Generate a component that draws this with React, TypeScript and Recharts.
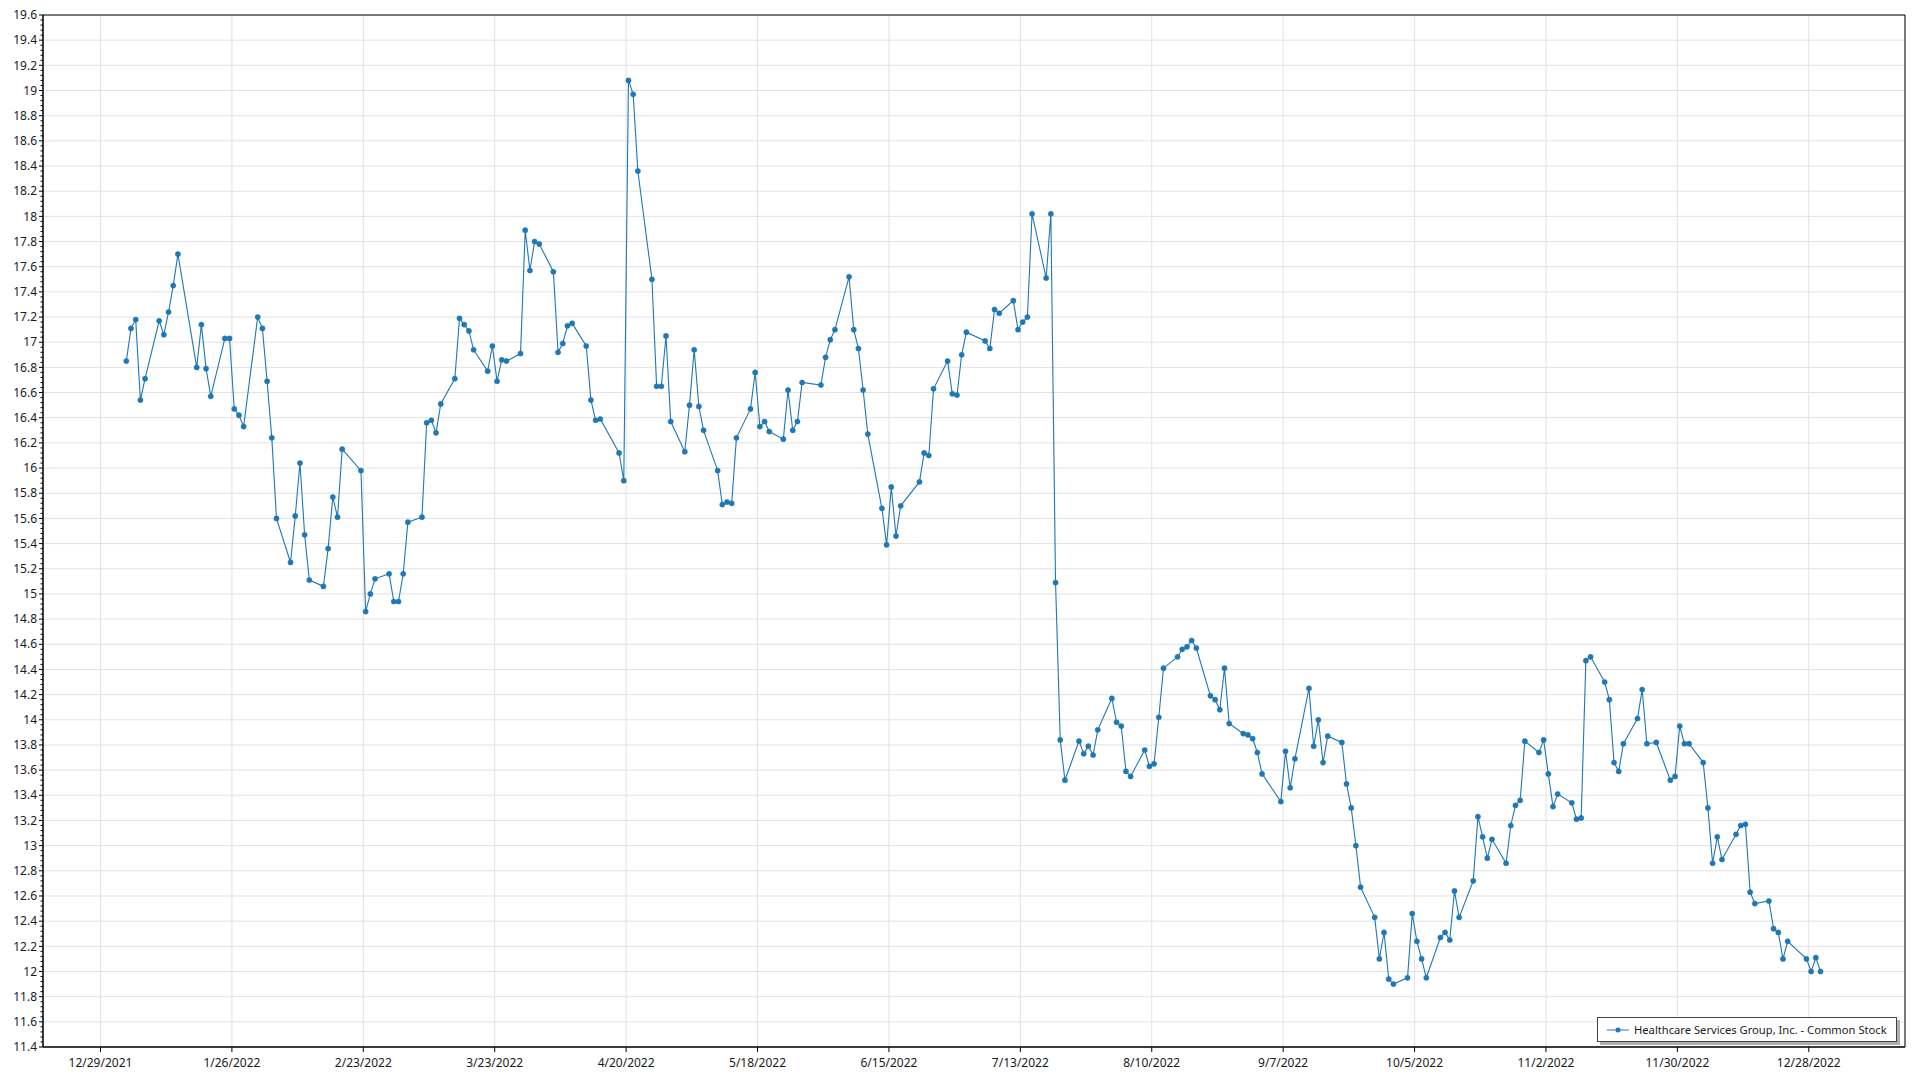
import React from 'react';
import {
    LineChart,
    Line,
    XAxis,
    YAxis,
    CartesianGrid,
    ReferenceArea
} from 'recharts';

const seriesName = 'Healthcare Services Group, Inc. - Common Stock';

const tradeDates = [
    '2022-01-03', '2022-01-04', '2022-01-05', '2022-01-06', '2022-01-07',
    '2022-01-10', '2022-01-11', '2022-01-12', '2022-01-13', '2022-01-14',
    '2022-01-18', '2022-01-19', '2022-01-20', '2022-01-21',
    '2022-01-24', '2022-01-25', '2022-01-26', '2022-01-27', '2022-01-28',
    '2022-01-31', '2022-02-01', '2022-02-02', '2022-02-03', '2022-02-04',
    '2022-02-07', '2022-02-08', '2022-02-09', '2022-02-10', '2022-02-11',
    '2022-02-14', '2022-02-15', '2022-02-16', '2022-02-17', '2022-02-18',
    '2022-02-22', '2022-02-23', '2022-02-24', '2022-02-25',
    '2022-02-28', '2022-03-01', '2022-03-02', '2022-03-03', '2022-03-04',
    '2022-03-07', '2022-03-08', '2022-03-09', '2022-03-10', '2022-03-11',
    '2022-03-14', '2022-03-15', '2022-03-16', '2022-03-17', '2022-03-18',
    '2022-03-21', '2022-03-22', '2022-03-23', '2022-03-24', '2022-03-25',
    '2022-03-28', '2022-03-29', '2022-03-30', '2022-03-31', '2022-04-01',
    '2022-04-04', '2022-04-05', '2022-04-06', '2022-04-07', '2022-04-08',
    '2022-04-11', '2022-04-12', '2022-04-13', '2022-04-14',
    '2022-04-18', '2022-04-19', '2022-04-20', '2022-04-21', '2022-04-22',
    '2022-04-25', '2022-04-26', '2022-04-27', '2022-04-28', '2022-04-29',
    '2022-05-02', '2022-05-03', '2022-05-04', '2022-05-05', '2022-05-06',
    '2022-05-09', '2022-05-10', '2022-05-11', '2022-05-12', '2022-05-13',
    '2022-05-16', '2022-05-17', '2022-05-18', '2022-05-19', '2022-05-20',
    '2022-05-23', '2022-05-24', '2022-05-25', '2022-05-26', '2022-05-27',
    '2022-05-31', '2022-06-01', '2022-06-02', '2022-06-03',
    '2022-06-06', '2022-06-07', '2022-06-08', '2022-06-09', '2022-06-10',
    '2022-06-13', '2022-06-14', '2022-06-15', '2022-06-16', '2022-06-17',
    '2022-06-21', '2022-06-22', '2022-06-23', '2022-06-24',
    '2022-06-27', '2022-06-28', '2022-06-29', '2022-06-30', '2022-07-01',
    '2022-07-05', '2022-07-06', '2022-07-07', '2022-07-08',
    '2022-07-11', '2022-07-12', '2022-07-13', '2022-07-14', '2022-07-15',
    '2022-07-18', '2022-07-19', '2022-07-20', '2022-07-21', '2022-07-22',
    '2022-07-25', '2022-07-26', '2022-07-27', '2022-07-28', '2022-07-29',
    '2022-08-01', '2022-08-02', '2022-08-03', '2022-08-04', '2022-08-05',
    '2022-08-08', '2022-08-09', '2022-08-10', '2022-08-11', '2022-08-12',
    '2022-08-15', '2022-08-16', '2022-08-17', '2022-08-18', '2022-08-19',
    '2022-08-22', '2022-08-23', '2022-08-24', '2022-08-25', '2022-08-26',
    '2022-08-29', '2022-08-30', '2022-08-31', '2022-09-01', '2022-09-02',
    '2022-09-06', '2022-09-07', '2022-09-08', '2022-09-09',
    '2022-09-12', '2022-09-13', '2022-09-14', '2022-09-15', '2022-09-16',
    '2022-09-19', '2022-09-20', '2022-09-21', '2022-09-22', '2022-09-23',
    '2022-09-26', '2022-09-27', '2022-09-28', '2022-09-29', '2022-09-30',
    '2022-10-03', '2022-10-04', '2022-10-05', '2022-10-06', '2022-10-07',
    '2022-10-10', '2022-10-11', '2022-10-12', '2022-10-13', '2022-10-14',
    '2022-10-17', '2022-10-18', '2022-10-19', '2022-10-20', '2022-10-21',
    '2022-10-24', '2022-10-25', '2022-10-26', '2022-10-27', '2022-10-28',
    '2022-10-31', '2022-11-01', '2022-11-02', '2022-11-03', '2022-11-04',
    '2022-11-07', '2022-11-08', '2022-11-09', '2022-11-10', '2022-11-11',
    '2022-11-14', '2022-11-15', '2022-11-16', '2022-11-17', '2022-11-18',
    '2022-11-21', '2022-11-22', '2022-11-23', '2022-11-25',
    '2022-11-28', '2022-11-29', '2022-11-30', '2022-12-01', '2022-12-02',
    '2022-12-05', '2022-12-06', '2022-12-07', '2022-12-08', '2022-12-09',
    '2022-12-12', '2022-12-13', '2022-12-14', '2022-12-15', '2022-12-16',
    '2022-12-19', '2022-12-20', '2022-12-21', '2022-12-22', '2022-12-23',
    '2022-12-27', '2022-12-28', '2022-12-29', '2022-12-30'
];

const closePrices = [
    16.85, 17.11, 17.18, 16.54, 16.71,
    17.17, 17.06, 17.24, 17.45, 17.70,
    16.80, 17.14, 16.79, 16.57,
    17.03, 17.03, 16.47, 16.42, 16.33,
    17.20, 17.11, 16.69, 16.24, 15.60,
    15.25, 15.62, 16.04, 15.47, 15.11,
    15.06, 15.36, 15.77, 15.61, 16.15,
    15.98, 14.86, 15.00, 15.12,
    15.16, 14.94, 14.94, 15.16, 15.57,
    15.61, 16.36, 16.38, 16.28, 16.51,
    16.71, 17.19, 17.14, 17.09, 16.94,
    16.77, 16.97, 16.69, 16.86, 16.85,
    16.91, 17.89, 17.57, 17.80, 17.78,
    17.56, 16.92, 16.99, 17.13, 17.15,
    16.97, 16.54, 16.38, 16.39,
    16.12, 15.90, 19.08, 18.97, 18.36,
    17.50, 16.65, 16.65, 17.05, 16.37,
    16.13, 16.50, 16.94, 16.49, 16.30,
    15.98, 15.71, 15.73, 15.72, 16.24,
    16.47, 16.76, 16.33, 16.37, 16.29,
    16.23, 16.62, 16.30, 16.37, 16.68,
    16.66, 16.88, 17.02, 17.10,
    17.52, 17.10, 16.95, 16.62, 16.27,
    15.68, 15.39, 15.85, 15.46, 15.70,
    15.89, 16.12, 16.10, 16.63,
    16.85, 16.59, 16.58, 16.90, 17.08,
    17.01, 16.95, 17.26, 17.23,
    17.33, 17.10, 17.16, 17.20, 18.02,
    17.51, 18.02, 15.09, 13.84, 13.52,
    13.83, 13.73, 13.79, 13.72, 13.92,
    14.17, 13.98, 13.95, 13.59, 13.55,
    13.76, 13.63, 13.65, 14.02, 14.41,
    14.50, 14.56, 14.58, 14.63, 14.57,
    14.19, 14.16, 14.08, 14.41, 13.97,
    13.89, 13.88, 13.85, 13.74, 13.57,
    13.35, 13.75, 13.46, 13.69,
    14.25, 13.79, 14.00, 13.66, 13.87,
    13.82, 13.49, 13.30, 13.00, 12.67,
    12.43, 12.10, 12.31, 11.94, 11.90,
    11.95, 12.46, 12.24, 12.10, 11.95,
    12.27, 12.31, 12.25, 12.64, 12.43,
    12.72, 13.23, 13.07, 12.90, 13.05,
    12.86, 13.16, 13.32, 13.36, 13.83,
    13.74, 13.84, 13.57, 13.31, 13.41,
    13.34, 13.21, 13.22, 14.47, 14.50,
    14.30, 14.16, 13.66, 13.59, 13.81,
    14.01, 14.24, 13.81, 13.82,
    13.52, 13.55, 13.95, 13.81, 13.81,
    13.66, 13.30, 12.86, 13.07, 12.89,
    13.09, 13.16, 13.17, 12.63, 12.54,
    12.56, 12.34, 12.31, 12.10, 12.24,
    12.10, 12.00, 12.11, 12.00
];

const xTickDates = [
    '2021-12-29', '2022-01-26', '2022-02-23', '2022-03-23', '2022-04-20',
    '2022-05-18', '2022-06-15', '2022-07-13', '2022-08-10', '2022-09-07',
    '2022-10-05', '2022-11-02', '2022-11-30', '2022-12-28'
];

const yTicks = [
    11.4, 11.6, 11.8, 12, 12.2, 12.4, 12.6, 12.8, 13, 13.2, 13.4, 13.6, 13.8,
    14, 14.2, 14.4, 14.6, 14.8, 15, 15.2, 15.4, 15.6, 15.8, 16, 16.2, 16.4,
    16.6, 16.8, 17, 17.2, 17.4, 17.6, 17.8, 18, 18.2, 18.4, 18.6, 18.8, 19,
    19.2, 19.4, 19.6
];

const DAY = 86400000;
const LINE_COLOR = '#1f77b4';
const FONT = '"Segoe UI", "Noto Sans", sans-serif';

const toTime = (s: string) => {
    const [y, m, d] = s.split('-').map(Number);
    return Date.UTC(y, m - 1, d);
};

// points sit half a day right of the date gridline in the original
const chartData = tradeDates.map((d, i) => ({
    t: toTime(d) + DAY / 2,
    price: closePrices[i]
}));

const xTicks = xTickDates.map(toTime);
const xDomain = [Date.UTC(2021, 11, 16, 18), Date.UTC(2023, 0, 17, 12)];
const yDomain = [11.4, 19.6];

const formatDate = (t: number) => {
    const d = new Date(t);
    return `${d.getUTCMonth() + 1}/${d.getUTCDate()}/${d.getUTCFullYear()}`;
};

// wrapper is pulled up/left over the body margin so the chart starts at page 0,0
const CHART_W = 1912;
const CHART_H = 1074;
const PLOT_TOP = 15;
const PLOT_BOTTOM = 1047;
const PX_PER_UNIT = (PLOT_BOTTOM - PLOT_TOP) / (yDomain[1] - yDomain[0]);

const YTick = (props: any) => {
    const { x, y, payload } = props;
    const axisX = x + 6;
    const v = payload.value as number;
    const minorStep = PX_PER_UNIT * 0.04;
    const minors = v > yDomain[0] ? [1, 2, 3, 4] : [];
    return (
        <g>
            <text x={x} y={y} dy="0.35em" textAnchor="end" fill="#1a1a1a" fontSize={12} fontFamily={FONT}>
                {`${Number(v.toFixed(1))}`}
            </text>
            {minors.map(k => (
                <line key={k} x1={axisX - 2.5} x2={axisX} y1={y + k * minorStep} y2={y + k * minorStep} stroke="#000" />
            ))}
        </g>
    );
};

const LegendBox = () => (
    <div style={{
        position: 'absolute',
        left: 1597,
        top: 1017,
        width: 300,
        height: 25,
        boxSizing: 'border-box',
        border: '1px solid #444',
        background: '#fff',
        boxShadow: '3px 3px 0 #b0b0b0',
        display: 'flex',
        alignItems: 'center',
        padding: '0 0 0 9px',
        fontFamily: FONT,
        fontSize: 11.2,
        color: '#1a1a1a',
        whiteSpace: 'nowrap',
        overflow: 'hidden'
    }}>
        <svg width={22} height={10} style={{ marginRight: 5, flex: 'none' }}>
            <line x1={0} x2={22} y1={5} y2={5} stroke="#6aa6d6" strokeWidth={1.5} />
            <circle cx={11} cy={5} r={2.5} fill={LINE_COLOR} />
        </svg>
        {seriesName}
    </div>
);

const App: React.FC = () => {
    return (
        <div style={{ position: 'relative', width: CHART_W, height: CHART_H, margin: '-8px 0 0 -8px', background: '#fff' }}>
            <LineChart
                width={CHART_W}
                height={CHART_H}
                data={chartData}
                margin={{ top: PLOT_TOP, right: CHART_W - 1905, bottom: 0, left: 0 }}
            >
                <CartesianGrid stroke="#e2e2e2" strokeWidth={1} />
                <XAxis
                    dataKey="t"
                    type="number"
                    domain={xDomain}
                    ticks={xTicks}
                    tickFormatter={formatDate}
                    allowDataOverflow
                    height={CHART_H - PLOT_BOTTOM}
                    stroke="#000"
                    tickSize={5}
                    tickMargin={6}
                    tick={{ fill: '#1a1a1a', fontSize: 12, fontFamily: FONT }}
                />
                <YAxis
                    type="number"
                    domain={yDomain}
                    ticks={yTicks}
                    allowDataOverflow
                    interval={0}
                    width={43}
                    stroke="#000"
                    tickSize={4}
                    tickMargin={2}
                    tick={<YTick />}
                />
                <ReferenceArea
                    x1={xDomain[0]}
                    x2={xDomain[1]}
                    y1={yDomain[0]}
                    y2={yDomain[1]}
                    fill="none"
                    fillOpacity={0}
                    stroke="#000"
                    strokeWidth={1}
                />
                <Line
                    type="linear"
                    dataKey="price"
                    name={seriesName}
                    stroke={LINE_COLOR}
                    strokeWidth={1.1}
                    dot={{ r: 2.6, fill: LINE_COLOR, stroke: LINE_COLOR, strokeWidth: 0.5 }}
                    activeDot={false}
                    isAnimationActive={false}
                />
            </LineChart>
            <LegendBox />
        </div>
    );
};

export default App;
